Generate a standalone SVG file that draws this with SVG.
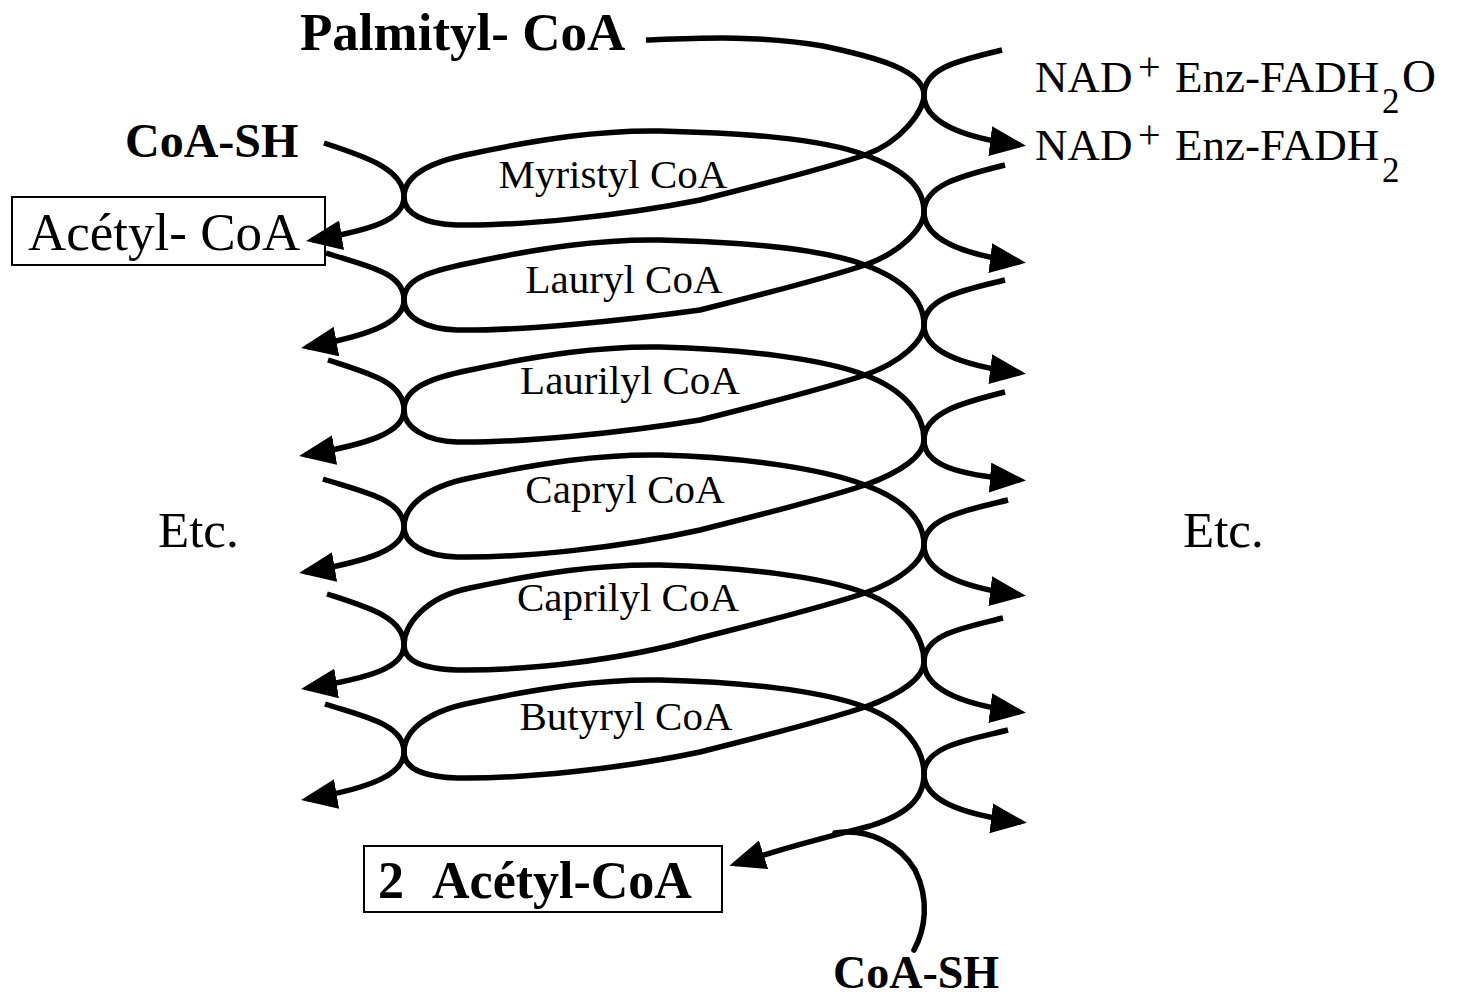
<svg xmlns="http://www.w3.org/2000/svg" width="1457" height="998" viewBox="0 0 1457 998">
<style>
text{font-family:"Liberation Serif","Times New Roman",serif;fill:#000}
.b{font-weight:bold}
.lbl{font-size:41px;text-anchor:middle}
.ln{fill:none;stroke:#000;stroke-width:5.5;stroke-linecap:round;stroke-linejoin:round}
.ar{fill:none;stroke:#000;stroke-width:5.5;stroke-linecap:butt;stroke-linejoin:round;marker-end:url(#ah)}
.box{fill:none;stroke:#000;stroke-width:2}
.sup{font-size:40px}
.sub{font-size:35px}
</style>
<defs>
<marker id="ah" markerUnits="userSpaceOnUse" markerWidth="36" markerHeight="30" viewBox="0 0 36 30" refX="30" refY="15" orient="auto"><path d="M0,0 L36,15 L0,30 z" fill="#000"/></marker>
</defs>
<rect width="1457" height="998" fill="#fff"/>
<g id="connectors">
<path id="spiral" class="ar" d="M646,40 C700,38 760,35 823,46 C875,57 924,70 924,95
C924,110 902,142 865,155 C820,170 760,185 700,200 C620,216 520,226 457,225 C425,224 404,214 404,197
C404,177 425,163 470,154 C540,139 600,130 660,131 C740,133 820,138 865,155 C905,170 924,187 924,212
C924,227 902,252 865,265 C820,280 760,295 700,310 C620,321 520,331 457,330 C425,329 404,317 404,300
C404,280 425,272 470,263 C540,248 600,239 660,240 C740,242 820,248 865,265 C905,280 924,300 924,325
C924,340 902,362 865,375 C820,390 760,405 700,420 C620,433 520,443 457,442 C425,441 404,427 404,410
C404,390 425,379 470,370 C540,355 600,346 660,347 C740,349 820,358 865,375 C905,390 924,415 924,440
C924,455 902,472 865,485 C820,500 760,515 700,530 C620,548 520,558 457,557 C425,556 404,544 404,527
C404,507 425,487 470,478 C540,463 600,454 660,455 C740,457 820,468 865,485 C905,500 924,520 924,545
C924,560 902,580 865,593 C820,608 760,623 700,638 C620,661 520,671 457,670 C425,669 404,662 404,645
C404,625 425,597 470,588 C540,573 600,564 660,565 C740,567 820,576 865,593 C905,608 924,637 924,662
C924,677 902,694 865,707 C820,722 760,737 700,752 C620,769 520,779 457,778 C425,777 404,769 404,752
C404,732 425,712 470,703 C540,688 600,679 660,680 C740,682 820,690 865,707 C905,722 924,749 924,774
C924,800 905,815 870,826 C840,834 800,843 735,864"/>
<path id="coash-bottom" class="ln" d="M835,833 C870,828 900,845 915,870 C930,900 925,930 914,950"/>
<path class="ar" d="M324,143 C364,156 404,169 404,197 C404,219 374,230 312,240"/>
<path class="ar" d="M326,253 C366,266 404,272 404,300 C404,322 372,335 307,347"/>
<path class="ar" d="M328,360 C368,373 404,382 404,410 C404,432 370,444 305,455"/>
<path class="ar" d="M323,479 C363,492 404,499 404,527 C404,549 370,561 305,572"/>
<path class="ar" d="M327,594 C367,607 404,617 404,645 C404,667 372,678 307,688"/>
<path class="ar" d="M325,704 C365,717 404,724 404,752 C404,774 372,788 307,799"/>
<path class="ar" d="M1002,50 C962,60 924,67 924,95 C924,120 957,137 1020,145"/>
<path class="ar" d="M1005,165 C965,175 924,184 924,212 C924,237 957,254 1020,262"/>
<path class="ar" d="M1005,280 C965,290 924,297 924,325 C924,350 957,365 1020,373"/>
<path class="ar" d="M1005,392 C965,402 924,412 924,440 C924,465 957,475 1020,480"/>
<path class="ar" d="M1008,500 C968,510 924,517 924,545 C924,570 957,587 1020,595"/>
<path class="ar" d="M1003,618 C963,628 924,634 924,662 C924,687 957,704 1020,712"/>
<path class="ar" d="M1008,730 C968,740 924,746 924,774 C924,799 957,814 1021,822"/>
</g>
<g id="palmityl"><text class="b" x="300" y="50" font-size="53">Palmityl- CoA</text></g>
<g id="coash-top"><text class="b" x="125" y="157" font-size="48">CoA-SH</text></g>
<g id="acetyl-box"><rect class="box" x="12" y="197" width="313" height="68"/><text x="28" y="250" font-size="53">Acétyl- CoA</text></g>
<g id="nad1"><text font-size="45" y="92"><tspan x="1035">NAD</tspan><tspan class="sup" x="1138" y="80">+</tspan><tspan x="1175" y="92">Enz-FADH</tspan><tspan class="sub" x="1382" y="113">2</tspan><tspan x="1402" y="92" font-size="47">O</tspan></text></g>
<g id="nad2"><text font-size="45" y="160"><tspan x="1035">NAD</tspan><tspan class="sup" x="1138" y="148">+</tspan><tspan x="1175" y="160">Enz-FADH</tspan><tspan class="sub" x="1382" y="182">2</tspan></text></g>
<g id="myristyl"><text class="lbl" x="613" y="188">Myristyl CoA</text></g>
<g id="lauryl"><text class="lbl" x="624" y="293">Lauryl CoA</text></g>
<g id="laurilyl"><text class="lbl" x="630" y="394">Laurilyl CoA</text></g>
<g id="capryl"><text class="lbl" x="625" y="503">Capryl CoA</text></g>
<g id="caprilyl"><text class="lbl" x="628" y="611">Caprilyl CoA</text></g>
<g id="butyryl"><text class="lbl" x="626" y="730">Butyryl CoA</text></g>
<g id="etc-left"><text x="158" y="547" font-size="51">Etc.</text></g>
<g id="etc-right"><text x="1183" y="547" font-size="51">Etc.</text></g>
<g id="acetyl2-box"><rect class="box" x="364" y="846" width="358" height="66"/><text class="b" x="378" y="898" font-size="52">2<tspan x="432">Acétyl-CoA</tspan></text></g>
<g id="coash-bottom-label"><text class="b" x="833" y="988" font-size="46">CoA-SH</text></g>
</svg>
